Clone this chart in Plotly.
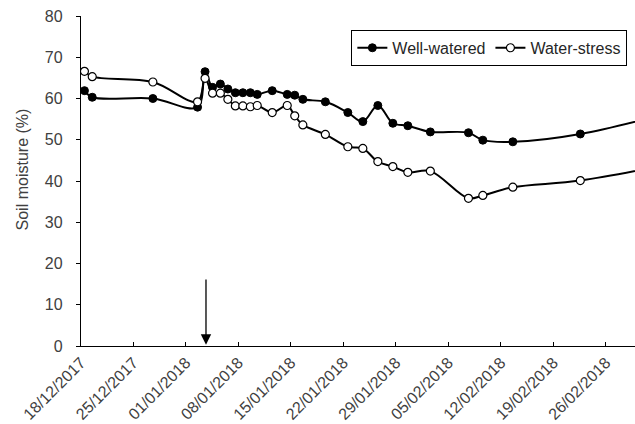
import plotly.graph_objects as go

dates = [
    "2017-12-18 11:00", "2017-12-19 12:00", "2017-12-27 14:00", "2018-01-02 13:00",
    "2018-01-03 13:00", "2018-01-04 13:00", "2018-01-05 14:00", "2018-01-06 14:00",
    "2018-01-07 14:00", "2018-01-08 14:00", "2018-01-09 14:00", "2018-01-10 12:00",
    "2018-01-12 12:00", "2018-01-14 12:00", "2018-01-15 12:00", "2018-01-16 14:00",
    "2018-01-19 14:00", "2018-01-22 14:00", "2018-01-24 14:00", "2018-01-26 14:00",
    "2018-01-28 14:00", "2018-01-30 14:00", "2018-02-02 14:00", "2018-02-07 16:00",
    "2018-02-09 14:00", "2018-02-13 14:00", "2018-02-22 14:00", "2018-03-08 12:00",
]
well_watered = [61.9, 60.3, 60.0, 57.9, 66.5, 62.7, 63.5, 62.3, 61.4, 61.4, 61.4, 61.0,
                61.9, 61.0, 60.8, 59.8, 59.2, 56.6, 54.4, 58.3, 54.0, 53.4, 51.9, 51.7,
                49.9, 49.5, 51.4, 57.5]
water_stress = [66.6, 65.3, 64.0, 59.2, 64.9, 61.3, 61.3, 59.8, 58.2, 58.2, 58.0, 58.3,
                56.6, 58.3, 55.8, 53.6, 51.3, 48.3, 47.9, 44.7, 43.5, 42.1, 42.4, 35.8,
                36.5, 38.5, 40.1, 44.8]
arrow_date = "2018-01-03 16:00"
arrow_top, arrow_tip = 16.5, 0.3
y_title = "Soil moisture (%)"

FONT = "Liberation Sans, Arial, sans-serif"
TXT = "#404040"

fig = go.Figure()
fig.add_trace(go.Scatter(
    x=dates, y=well_watered, name="Well-watered", mode="lines+markers",
    line=dict(color="black", width=2, shape="spline", smoothing=1),
    marker=dict(symbol="circle", size=8, color="black", line=dict(color="black", width=1)),
))
fig.add_trace(go.Scatter(
    x=dates, y=water_stress, name="Water-stress", mode="lines+markers",
    line=dict(color="black", width=2, shape="spline", smoothing=1),
    marker=dict(symbol="circle", size=8, color="white", line=dict(color="black", width=1.2)),
))

fig.add_annotation(
    x=arrow_date, y=arrow_tip, ax=arrow_date, ay=arrow_top,
    xref="x", yref="y", axref="x", ayref="y",
    text="", showarrow=True, arrowhead=2, arrowsize=1.6, arrowwidth=1.3, arrowcolor="black",
)
fig.add_annotation(
    text=y_title, textangle=-90, showarrow=False,
    xref="paper", yref="paper", x=-0.1065, y=0.535, xanchor="center", yanchor="middle",
    font=dict(family=FONT, size=16, color=TXT),
)

fig.update_layout(
    width=635, height=424,
    margin=dict(l=81, r=0, t=16, b=78),
    paper_bgcolor="white", plot_bgcolor="white",
    font=dict(family=FONT, size=16, color=TXT),
    showlegend=True,
    legend=dict(
        orientation="h", x=0.488, y=0.958, xanchor="left", yanchor="top",
        bordercolor="black", borderwidth=1, bgcolor="white",
        font=dict(family=FONT, size=16, color="#262626"),
        itemwidth=30, tracegroupgap=0,
    ),
)
fig.update_xaxes(
    type="date", range=["2017-12-18", "2018-03-01 21:00"],
    tick0="2017-12-18", dtick=7 * 86400000, tickformat="%d/%m/%Y", tickangle=-45,
    showline=True, linecolor="black", linewidth=1.3,
    ticks="inside", ticklen=4, tickcolor="black", tickwidth=1,
    showgrid=False, zeroline=False, automargin=False,
    tickfont=dict(family=FONT, size=16, color=TXT),
)
fig.update_yaxes(
    range=[0, 80], dtick=10, tick0=0,
    showline=True, linecolor="black", linewidth=1.3,
    ticks="outside", ticklen=4, tickcolor="black", tickwidth=1,
    ticklabelstandoff=10, automargin=False,
    showgrid=False, zeroline=False,
    tickfont=dict(family=FONT, size=16, color=TXT),
)

fig.write_html(
    "out.html",
    config={"responsive": False, "displayModeBar": False},
    post_script="document.body.style.margin='0';document.body.style.overflow='hidden';",
)
